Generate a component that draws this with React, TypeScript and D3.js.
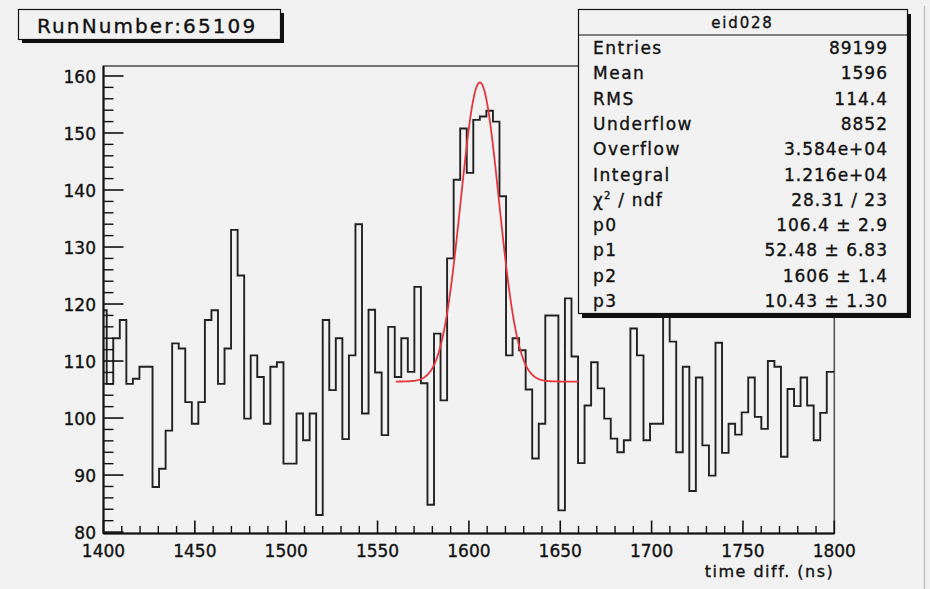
import React from "react";
import * as d3 from "d3";

// ---- data ----
const runLabel = "RunNumber:65109";
const histName = "eid028";
const xAxisTitle = "time diff. (ns)";
const binStart = 1398.17; // ns, low edge of first (clipped) bin
const binWidth = 3.583; // ns
const counts = [
  118.9, 106.0, 114.0, 117.2, 106.0, 106.9, 109.0, 109.0, 87.9, 91.1,
  97.8, 113.1, 112.2, 102.8, 99.0, 102.8, 117.2, 118.9, 106.0, 112.2,
  133.0, 125.0, 99.9, 111.0, 107.2, 99.0, 109.0, 109.8, 92.0, 92.0,
  100.8, 96.1, 100.8, 83.0, 117.2, 104.9, 114.0, 96.3, 111.0, 134.0,
  100.8, 119.0, 108.0, 97.0, 116.0, 107.2, 114.0, 108.1, 123.0, 106.1,
  84.8, 114.8, 103.1, 128.0, 141.8, 150.8, 143.0, 152.3, 152.9, 153.9,
  152.0, 138.9, 111.0, 114.0, 111.9, 105.0, 92.9, 99.0, 118.0, 118.0,
  83.8, 121.0, 110.8, 92.1, 102.2, 109.8, 105.2, 99.9, 96.4, 94.0,
  96.1, 115.7, 111.0, 96.1, 99.0, 99.0, 124.0, 113.4, 94.0, 109.0,
  87.2, 107.1, 95.2, 89.9, 113.2, 93.9, 99.0, 97.1, 101.0, 107.1,
  100.2, 98.1, 110.0, 109.0, 93.2, 105.1, 102.1, 107.1, 102.2, 96.1,
  100.9, 108.1, 108.1,
];
const xTicks = [1400, 1450, 1500, 1550, 1600, 1650, 1700, 1750, 1800];
const yTicks = [80, 90, 100, 110, 120, 130, 140, 150, 160];
const xDomain = [1400, 1800];
const yDomain = [79.75, 161.75];
const statsLabels = ["Entries", "Mean", "RMS", "Underflow", "Overflow", "Integral", "chi2", "p0", "p1", "p2", "p3"];
const statsValues = ["89199", "1596", "114.4", "8852", "3.584e+04", "1.216e+04", "28.31 / 23", "106.4 \u00b1 2.9", "52.48 \u00b1 6.83", "1606 \u00b1 1.4", "10.43 \u00b1 1.30"];
const fitParams = [106.4, 52.48, 1606, 10.43];
const fitRange = [1560, 1660];

const FONT = "'DejaVu Sans', 'Liberation Sans', sans-serif";
const BG = "#f2f2f2";
const INK = "#111";

export default function App() {
  const W = 930, H = 589;
  const frame = { l: 103.5, r: 834.3, t: 66, b: 533.5 };
  const x = d3.scaleLinear().domain(xDomain).range([frame.l, frame.r]);
  const y = d3.scaleLinear().domain(yDomain).range([frame.b, frame.t]);

  // histogram step outline
  const pts: [number, number][] = [];
  counts.forEach((c, i) => {
    const lo = Math.max(binStart + i * binWidth, xDomain[0]);
    const hi = Math.min(binStart + (i + 1) * binWidth, xDomain[1]);
    if (hi <= lo) return;
    pts.push([x(lo), y(c)]);
    pts.push([x(hi), y(c)]);
  });
  const histPath = d3.line()(pts) || "";

  // fit function
  const [p0, p1, p2, p3] = fitParams;
  const f = (t: number) => p0 + p1 * Math.exp(-0.5 * ((t - p2) / p3) ** 2);
  const fitX = d3.range(fitRange[0], fitRange[1] + 0.001, 0.5);
  const fitPath = d3.line<number>().x((t) => x(t)).y((t) => y(f(t))).curve(d3.curveLinear)(fitX) || "";

  // minor ticks
  const xMinor = d3.range(xDomain[0], xDomain[1] + 0.001, 10).filter((v) => v % 50 !== 0);
  const yMinor = d3.range(80, 161.5, 2).filter((v) => v % 10 !== 0);

  // stats box
  const sb = { x: 578, y: 9, w: 329, h: 304, head: 26 };
  const rows = d3.scaleBand<number>().domain(d3.range(statsLabels.length)).range([sb.y + sb.head, sb.y + sb.h]);

  const txt = { fill: INK, stroke: INK, strokeWidth: 0.35 };

  return (
    <div style={{ position: "absolute", left: 0, top: 0, width: W, height: H }}>
      <svg width={W} height={H} style={{ display: "block", fontFamily: FONT }}>
        <rect x={0} y={0} width={W} height={H} fill={BG} />
        <line x1={924.5} y1={6} x2={924.5} y2={H} stroke="#c4c4c4" strokeWidth={1.5} />

        {/* frame */}
        <rect x={frame.l} y={frame.t} width={frame.r - frame.l} height={frame.b - frame.t} fill={BG} stroke="#555" strokeWidth={1.6} />

        <defs>
          <clipPath id="fr">
            <rect x={frame.l} y={frame.t} width={frame.r - frame.l} height={frame.b - frame.t} />
          </clipPath>
        </defs>

        {/* histogram */}
        <g clipPath="url(#fr)">
          <path d={histPath} fill="none" stroke="#222" strokeWidth={1.9} strokeLinejoin="miter" />
          <path d={fitPath} fill="none" stroke="#e5363f" strokeWidth={1.8} />
        </g>

        {/* axes */}
        <line x1={frame.l} y1={frame.t} x2={frame.l} y2={frame.b} stroke={INK} strokeWidth={2} />
        <line x1={frame.l} y1={frame.b} x2={frame.r} y2={frame.b} stroke={INK} strokeWidth={2} />

        {yTicks.map((v) => (
          <g key={"yt" + v}>
            <line x1={frame.l} x2={frame.l + 20} y1={y(v)} y2={y(v)} stroke={INK} strokeWidth={1.6} />
            <text x={96} y={y(v) + 7} textAnchor="end" fontSize={17} {...txt}>{v}</text>
          </g>
        ))}
        {yMinor.map((v) => (
          <line key={"ym" + v} x1={frame.l} x2={frame.l + 10} y1={y(v)} y2={y(v)} stroke={INK} strokeWidth={1.4} />
        ))}
        {xTicks.map((v) => (
          <g key={"xt" + v}>
            <line x1={x(v)} x2={x(v)} y1={frame.b} y2={frame.b - 13} stroke={INK} strokeWidth={1.6} />
            <text x={x(v)} y={557} textAnchor="middle" fontSize={17} {...txt}>{v}</text>
          </g>
        ))}
        {xMinor.map((v) => (
          <line key={"xm" + v} x1={x(v)} x2={x(v)} y1={frame.b} y2={frame.b - 7.5} stroke={INK} strokeWidth={1.4} />
        ))}
        <text x={frame.r} y={577} textAnchor="end" fontSize={16} letterSpacing={1.5} {...txt}>{xAxisTitle}</text>

        {/* title box */}
        <rect x={22} y={13} width={262} height={30} fill={INK} />
        <rect x={18.5} y={9.5} width={262} height={30} fill={BG} stroke={INK} strokeWidth={1.2} />
        <text x={37} y={33} fontSize={20} letterSpacing={2.1} {...txt}>{runLabel}</text>

        {/* stats box */}
        <rect x={sb.x + 4} y={sb.y + 5} width={sb.w} height={sb.h} fill={INK} />
        <rect x={sb.x + 0.5} y={sb.y + 0.5} width={sb.w} height={sb.h} fill={BG} stroke={INK} strokeWidth={1.2} />
        <line x1={sb.x} x2={sb.x + sb.w} y1={sb.y + sb.head} y2={sb.y + sb.head} stroke={INK} strokeWidth={1.2} />
        <text x={sb.x + sb.w / 2} y={sb.y + 19} textAnchor="middle" fontSize={15} letterSpacing={1.8} {...txt}>{histName}</text>
        {statsLabels.map((lab, i) => {
          const by = (rows(i) as number) + rows.bandwidth() / 2 + 6.5;
          return (
            <g key={"st" + i}>
              {lab === "chi2" ? (
                <text x={593} y={by} fontSize={17} letterSpacing={1.2} {...txt}>
                  {"\u03c7"}
                  <tspan dy={-7} fontSize={10}>2</tspan>
                  <tspan dy={7}>{" / ndf"}</tspan>
                </text>
              ) : (
                <text x={593} y={by} fontSize={17} letterSpacing={1.5} {...txt}>{lab}</text>
              )}
              <text x={888} y={by} textAnchor="end" fontSize={17} letterSpacing={1.0} {...txt}>{statsValues[i]}</text>
            </g>
          );
        })}
      </svg>
    </div>
  );
}
